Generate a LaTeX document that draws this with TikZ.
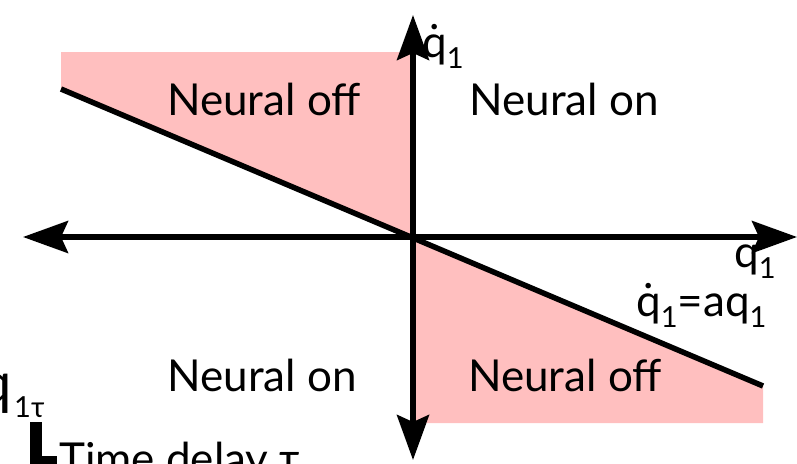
\documentclass[tikz,border=0pt]{standalone}
\usepackage{fontspec}
\setmainfont{Lato}
\usetikzlibrary{arrows.meta}
\definecolor{pinkfill}{RGB}{255,191,191}
\newcommand\qd{\leavevmode\hbox{\ooalign{q\cr\hidewidth\raisebox{0.63em}{.}\hidewidth\cr}}}
\newcommand\lowsub[1]{\raisebox{-11pt}{\fontsize{29}{29}\selectfont #1}}
\newcommand\bigsub[1]{\raisebox{-14pt}{\fontsize{29}{29}\selectfont #1}}
\begin{document}
\begin{tikzpicture}[x=1pt,y=-1pt,
  ax/.style={line width=5.5pt,
    {Stealth[length=45pt,width=32pt,inset=7pt]}-{Stealth[length=45pt,width=32pt,inset=7pt]}},
  lbl/.style={font=\fontsize{44}{50}\selectfont, inner sep=0pt},
  biglbl/.style={font=\fontsize{58}{60}\selectfont, inner sep=0pt}]
\useasboundingbox (0,0) rectangle (797,463);
% shaded regions
\fill[pinkfill] (61,52) -- (413,52) -- (413,237) -- (61,89) -- cycle;
\fill[pinkfill] (413,237) -- (763,385) -- (763,423) -- (413,423) -- cycle;
% coordinates
\coordinate (O) at (413,237);
\coordinate (xl) at (23,237);
\coordinate (xr) at (797,237);
\coordinate (yt) at (413,15);
\coordinate (yb) at (413,460);
\coordinate (l1) at (61,89);
\coordinate (l2) at (763,386);
% diagonal line and axes
\draw[line width=5.5pt] (l1) -- (l2);
\draw[ax] (xl) -- (xr);
\draw[ax] (yb) -- (yt);
% region labels
\node[lbl, anchor=base] (ul) at (264,115) {Neural off};
\node[lbl, anchor=base] (ur) at (564,115) {Neural on};
\node[lbl, anchor=base] (ll) at (262,391) {Neural on};
\node[lbl, anchor=base] (lr) at (565,391) {Neural off};
% axis labels
\node[lbl, anchor=base west] (qdl) at (422,57) {\qd\lowsub{1}};
\node[lbl, anchor=base west] (ql) at (734,267) {q\lowsub{1}};
\node[lbl, anchor=base west] (eq) at (636,316) {\qd\lowsub{1}=aq\lowsub{1}};
% bottom-left annotation
\node[biglbl, anchor=base east] (qt) at (12,403) {q};
\node[inner sep=0pt, anchor=base west, font=\fontsize{29}{29}\selectfont] (qts) at (14,417) {1τ};
\draw[line width=12pt] (36,422) -- (36,462) -- (57,462);
\node[lbl, anchor=base west] (td) at (59,474) {Time delay τ};
\end{tikzpicture}
\end{document}
